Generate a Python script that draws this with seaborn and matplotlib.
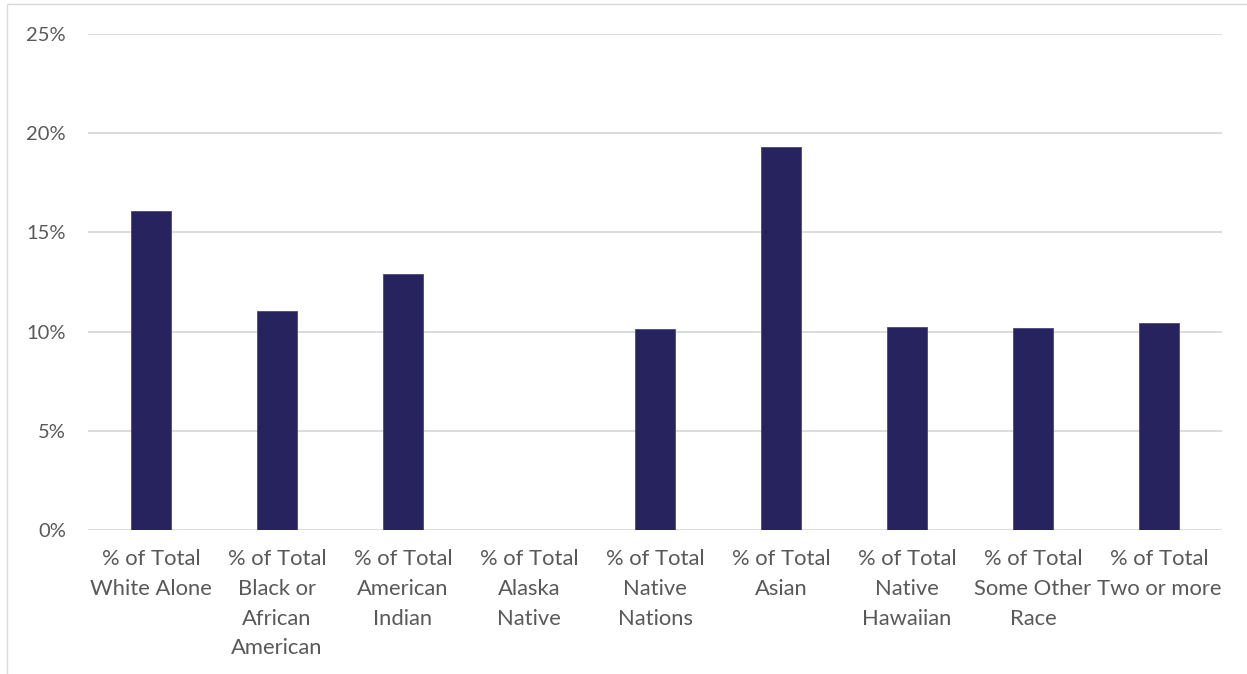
import numpy as np
import pandas as pd
import matplotlib
matplotlib.use('Agg')
import matplotlib.pyplot as plt
import seaborn as sns
from matplotlib.patches import Rectangle
from matplotlib.ticker import PercentFormatter

categories = ['% of Total\nWhite Alone', '% of Total\nBlack or\nAfrican\nAmerican',
              '% of Total\nAmerican\nIndian', '% of Total\nAlaska\nNative',
              '% of Total\nNative\nNations', '% of Total\nAsian',
              '% of Total\nNative\nHawaiian', '% of Total\nSome Other\nRace',
              '% of Total\nTwo or more']
share = [16.08, 11.04, 12.9, 0.0, 10.12, 19.32, 10.25, 10.17, 10.42]
yticks = [0, 5, 10, 15, 20, 25]

df = pd.DataFrame({'category': categories, 'share': share})

sns.set_style('white')
plt.rcParams['font.family'] = ['Lato', 'DejaVu Sans']

fig = plt.figure(figsize=(12.47, 6.74), dpi=100)
ax = fig.add_axes([88/1247, 1 - 530/674, (1222 - 88)/1247, (530 - 34)/674])

sns.barplot(data=df, x='category', y='share', color='#27235f', width=0.315,
            edgecolor='#4a4780', linewidth=0.6, saturation=1, ax=ax)

ax.set_ylim(0, 25)
ax.set_xlim(-0.5, len(categories) - 0.5)
ax.set_yticks(yticks)
ax.yaxis.set_major_formatter(PercentFormatter(decimals=0))
ax.grid(axis='y', color='#d6d6d6', linewidth=1.2)
ax.set_axisbelow(True)
for s in ax.spines.values():
    s.set_visible(False)
ax.tick_params(axis='both', length=0, colors='#595959')
ax.tick_params(axis='y', pad=16, labelsize=14.5)
ax.tick_params(axis='x', pad=14)
ax.set_xticks(range(len(categories)))
ax.set_xticklabels(categories, linespacing=1.6, fontsize=15.8, color='#595959',
                   va='top')
ax.set_xlabel('')
ax.set_ylabel('')

# chart area border
fig.patches.append(Rectangle((7/1247, -0.1), 1.2, 0.1 + (674 - 4)/674,
                             transform=fig.transFigure, fill=False,
                             edgecolor='#d9d9d9', linewidth=1.0))

fig.savefig('out.png', dpi=100)
